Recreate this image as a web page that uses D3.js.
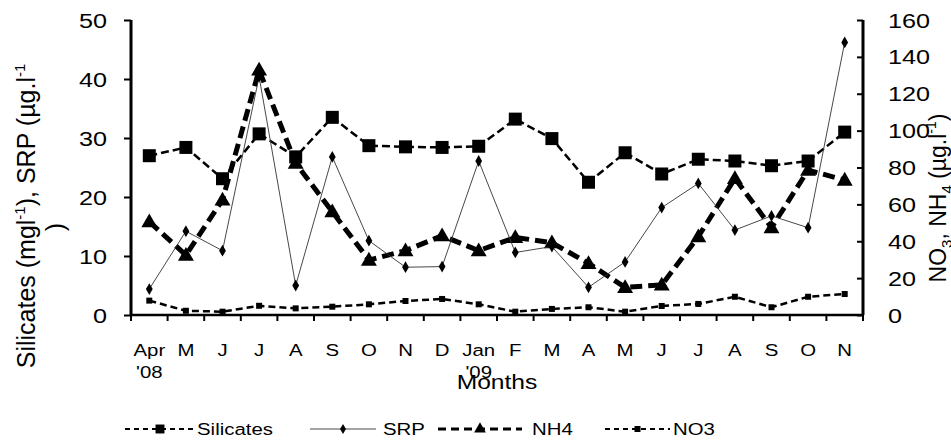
<!DOCTYPE html>
<html><head><meta charset="utf-8">
<script src="https://cdn.jsdelivr.net/npm/d3@7"></script>
<style>html,body{margin:0;padding:0;background:#fff;} svg{display:block;font-family:Arial,"Liberation Sans",sans-serif;}</style>
</head><body>
<svg id="chart" width="951" height="442"></svg>
<script>
const months = ["Apr","M","J","J","A","S","O","N","D","Jan","F","M","A","M","J","J","A","S","O","N"];
const yearLabels = ["'08","","","","","","","","","'09","","","","","","","","","",""];
const silicates = [27.0,28.4,23.1,30.7,26.8,33.5,28.7,28.5,28.4,28.6,33.2,29.9,22.5,27.5,23.9,26.4,26.1,25.3,26.1,31.0];
const srp = [4.4,14.2,10.9,40.4,5.0,26.8,12.6,8.1,8.2,26.1,10.6,11.6,4.7,9.0,18.2,22.3,14.4,16.8,14.8,46.2];
const nh4 = [50.6,32.5,62.4,132.9,82.3,56.0,29.8,34.9,43.0,34.9,42.1,39.2,28.0,15.0,16.3,42.5,74.1,47.4,78.6,73.2];
const no3 = [7.8,2.3,1.8,5.0,3.6,4.5,5.8,7.6,8.7,5.8,1.8,3.3,4.2,1.8,4.9,6.0,9.9,4.2,9.9,11.4];
const leftTicks = [0,10,20,30,40,50];
const rightTicks = [0,20,40,60,80,100,120,140,160];

const svg = d3.select("#chart");
const L = 131, R = 863, T = 20, B = 315;
const SX = 1.2;
const x = d3.scaleBand().domain(d3.range(months.length)).range([L, R]).padding(0);
const yL = d3.scaleLinear().domain([0,50]).range([B,T]);
const yR = d3.scaleLinear().domain([0,160]).range([B,T]);
const cx = i => x(i) + x.bandwidth()/2;

function hText(px, py, str, size, anchor) {
  return svg.append("text")
    .attr("transform", `translate(${px},${py}) scale(${SX},1)`)
    .attr("text-anchor", anchor || "middle")
    .attr("font-size", size)
    .attr("fill", "#000")
    .text(str);
}

// axes
const axisG = svg.append("g");
axisG.append("g").attr("transform", `translate(0,${B})`)
  .call(d3.axisBottom(x).tickSize(0).tickFormat(""))
  .call(g => g.select(".domain").attr("stroke","#000").attr("stroke-width",2.5).attr("d", `M${L},0H${R}`));
const bounds = d3.range(months.length + 1).map(i => i < months.length ? x(i) : R);
axisG.selectAll("line.xt").data(bounds).join("line")
  .attr("x1", d => d).attr("x2", d => d).attr("y1", B).attr("y2", B + 6)
  .attr("stroke", "#000").attr("stroke-width", 2);

axisG.append("g").attr("transform", `translate(${L},0)`)
  .call(d3.axisLeft(yL).tickValues(leftTicks).tickSize(7).tickFormat(""))
  .call(g => { g.select(".domain").attr("stroke","#000").attr("stroke-width",3).attr("d", `M0,${B}V${T}`); g.selectAll("line").attr("stroke","#000").attr("stroke-width",2); });
axisG.append("g").attr("transform", `translate(${R},0)`)
  .call(d3.axisRight(yR).tickValues(rightTicks).tickSize(-6).tickFormat(""))
  .call(g => { g.select(".domain").attr("stroke","#000").attr("stroke-width",3).attr("d", `M0,${B}V${T}`); g.selectAll("line").attr("stroke","#000").attr("stroke-width",2); });

leftTicks.forEach(v => hText(107, yL(v) + 7.5, String(v), 21, "end"));
rightTicks.forEach(v => hText(888, yR(v) + 7.5, String(v), 21, "start"));

months.forEach((m, i) => {
  hText(cx(i), 356, m, 17, "middle");
  if (yearLabels[i]) hText(cx(i), 378, yearLabels[i], 17, "middle");
});
hText((L + R) / 2, 389, "Months", 20.5, "middle");

// axis titles
const lt = svg.append("text").attr("transform", "translate(35,216) rotate(-90)")
  .attr("text-anchor", "middle").attr("font-size", 25).attr("fill", "#000");
lt.append("tspan").text("Silicates (mgl");
lt.append("tspan").attr("dy", -10).attr("font-size", 15).text("-1");
lt.append("tspan").attr("dy", 10).text("), SRP (µg.l");
lt.append("tspan").attr("dy", -10).attr("font-size", 15).text("-1");
svg.append("text").attr("transform", "translate(64,227) rotate(-90)")
  .attr("text-anchor", "middle").attr("font-size", 25).attr("fill", "#000").text(")");

const rt = svg.append("text").attr("transform", "translate(946,198) rotate(-90)")
  .attr("text-anchor", "middle").attr("font-size", 23).attr("fill", "#000");
rt.append("tspan").text("NO");
rt.append("tspan").attr("dy", 6).attr("font-size", 15).text("3");
rt.append("tspan").attr("dy", -6).text(", NH");
rt.append("tspan").attr("dy", 6).attr("font-size", 15).text("4");
rt.append("tspan").attr("dy", -6).text(" (µg.l");
rt.append("tspan").attr("dy", -10).attr("font-size", 14).text("-1");
rt.append("tspan").attr("dy", 10).text(")");

// series
const series = [
  {name:"Silicates", data:silicates, y:yL, width:2.5, dash:"8,4", sym:d3.symbolSquare, size:169},
  {name:"NH4", data:nh4, y:yR, width:5, dash:"12,6", sym:d3.symbolTriangle, size:110},
  {name:"SRP", data:srp, y:yL, width:0.9, dash:null, sym:d3.symbolDiamond, size:40},
  {name:"NO3", data:no3, y:yR, width:2.5, dash:"7,4", sym:d3.symbolSquare, size:36}
];
const plotG = svg.append("g");
series.forEach(s => {
  const line = d3.line().x((d, i) => cx(i)).y(d => s.y(d));
  plotG.append("path").datum(s.data).attr("d", line).attr("fill", "none")
    .attr("stroke", s.name === "SRP" ? "#333" : "#000").attr("stroke-width", s.width)
    .attr("stroke-dasharray", s.dash);
  const sym = d3.symbol().type(s.sym).size(s.size);
  plotG.selectAll(null).data(s.data).join("path")
    .attr("transform", (d, i) => `translate(${cx(i)},${s.y(d) + (s.sym === d3.symbolTriangle ? 1 : 0)})`)
    .attr("d", sym).attr("fill", "#000");
});

// legend
const legendItems = [
  {s:series[0], x1:125, x2:195, tx:197, label:"Silicates"},
  {s:series[2], x1:310, x2:376, tx:383, label:"SRP"},
  {s:series[1], x1:438, x2:522, tx:532, label:"NH4"},
  {s:series[3], x1:605, x2:670, tx:673, label:"NO3"}
];
const ly = 429;
legendItems.forEach(it => {
  const s = it.s;
  const lw = s.name === "NH4" ? 3 : (s.name === "SRP" ? 0.9 : 2);
  const dash = s.name === "NH4" ? "8,5" : (s.dash ? "5,4" : null);
  svg.append("line").attr("x1", it.x1).attr("x2", it.x2).attr("y1", ly).attr("y2", ly)
    .attr("stroke", s.name === "SRP" ? "#333" : "#000").attr("stroke-width", lw).attr("stroke-dasharray", dash);
  const lsize = s.name === "Silicates" ? 80 : (s.name === "NH4" ? 60 : (s.name === "SRP" ? 30 : 36));
  svg.append("path").attr("transform", `translate(${(it.x1 + it.x2) / 2},${ly})`)
    .attr("d", d3.symbol().type(s.sym).size(lsize)).attr("fill", "#000");
  hText(it.tx, ly + 6, it.label, 17, "start");
});
</script>
</body></html>
